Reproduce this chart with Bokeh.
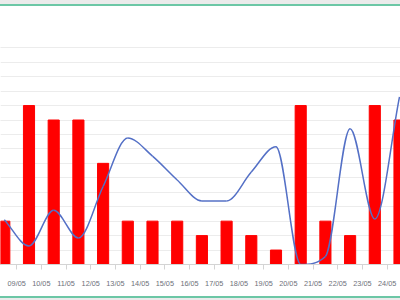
import numpy as np
from bokeh.plotting import figure
from bokeh.models import Range1d, FixedTicker, Grid
from bokeh.embed import file_html
from bokeh.resources import INLINE

dates = ["08/05", "09/05", "10/05", "11/05", "12/05", "13/05", "14/05", "15/05",
         "16/05", "17/05", "18/05", "19/05", "20/05", "21/05", "22/05", "23/05", "24/05"]
bar_values = [3, 11, 10, 10, 7, 3, 3, 3, 2, 3, 2, 1, 11, 3, 2, 11, 10]
line_values = [3.1, 1.28, 3.75, 1.83, 5.4, 8.75, 7.5, 5.85, 4.4, 4.4, 6.4, 8.15, 0.0, 0.55, 9.4, 3.15, 11.6]
y_grid_values = list(range(0, 16))

PX_X = 24.7   # pixels per category
PX_Y = 14.45  # pixels per unit

x = np.arange(len(dates), dtype=float)
yv = np.array(line_values, dtype=float)

p = figure(width=400, height=300, output_backend="svg", toolbar_location=None,
           x_range=Range1d(-3.8 / PX_X, 396.2 / PX_X),
           y_range=Range1d(0, 258 / PX_Y),
           y_axis_location=None,
           min_border_left=0, min_border_right=0, min_border_top=6, min_border_bottom=36)
p.outline_line_color = None
p.background_fill_color = "white"
p.border_fill_color = None
# page frame look: gray band + green rule at top and bottom, shown through the transparent border
p.styles = {"background": "linear-gradient(to bottom, #ebebeb 0px, #ebebeb 4px, #6cc7a6 4px, "
                          "#6cc7a6 6px, #ffffff 6px, #ffffff 296px, #6cc7a6 296px, #6cc7a6 298px, "
                          "#ebebeb 298px, #ebebeb 300px)"}
p.xgrid.visible = False

grid = Grid(dimension=1, ticker=FixedTicker(ticks=y_grid_values),
            grid_line_color="#ececec", grid_line_width=1)
p.add_layout(grid)

ticks = [k - 0.5 for k in range(1, len(dates))]
ax = p.xaxis[0]
ax.ticker = FixedTicker(ticks=ticks)
ax.major_label_overrides = {t: dates[k] for t, k in zip(ticks, range(1, len(dates)))}
ax.axis_line_color = "#d4d4d4"
ax.major_tick_line_color = "#d4d4d4"
ax.major_tick_in = 0
ax.major_tick_out = 5
ax.minor_tick_line_color = None
ax.major_label_standoff = 9
ax.major_label_text_font = "Liberation Sans"
ax.major_label_text_font_size = "7.3px"
ax.major_label_text_color = "#6e7079"

p.vbar(x=x, top=bar_values, width=0.45, bottom=0, color="#ff0000")

# monotone cubic (Fritsch-Carlson) rendering of the line as bezier segments
n = len(x)
dk = np.diff(yv) / np.diff(x)
m = np.zeros(n)
m[0] = dk[0]
m[-1] = dk[-1]
for i in range(1, n - 1):
    if dk[i - 1] == 0 or dk[i] == 0 or np.sign(dk[i - 1]) != np.sign(dk[i]):
        m[i] = 0.0
    else:
        m[i] = (dk[i - 1] + dk[i]) / 2
for i in range(n - 1):
    if dk[i] == 0:
        m[i] = 0.0
        m[i + 1] = 0.0
        continue
    a = m[i] / dk[i]
    b = m[i + 1] / dk[i]
    s = a * a + b * b
    if s > 9:
        t = 3 / np.sqrt(s)
        m[i] = a * t * dk[i]
        m[i + 1] = b * t * dk[i]
h = np.diff(x) / 3
cx0 = x[:-1] + h
cy0 = yv[:-1] + m[:-1] * h
cx1 = x[1:] - h
cy1 = yv[1:] - m[1:] * h
p.bezier(x0=x[:-1], y0=yv[:-1], x1=x[1:], y1=yv[1:], cx0=cx0, cy0=cy0, cx1=cx1, cy1=cy1,
         line_color="#5470c6", line_width=1.5)

open("out.html", "w").write(file_html(p, INLINE))
